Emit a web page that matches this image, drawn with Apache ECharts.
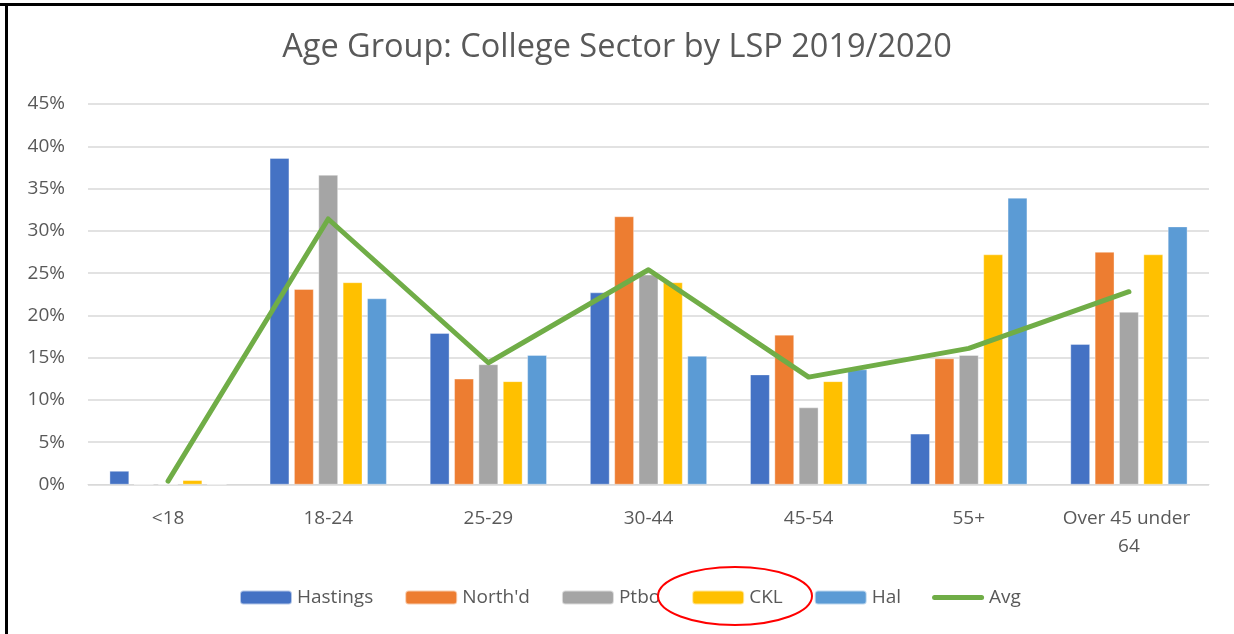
<!DOCTYPE html>
<html>
<head>
<meta charset="utf-8">
<script src="https://cdn.jsdelivr.net/npm/echarts@6/dist/echarts.min.js"></script>
<style>html,body{margin:0;padding:0;background:#fff}#c{width:1234px;height:634px}</style>
</head>
<body>
<div id="c"></div>
<script>
const categories = ['<18', '18-24', '25-29', '30-44', '45-54', '55+', 'Over 45 under 64'];
const hastings = [1.6, 38.6, 17.9, 22.7, 13.0, 6.0, 16.6];
const northd   = [0, 23.1, 12.5, 31.7, 17.7, 14.9, 27.5];
const ptbo     = [0, 36.6, 14.2, 24.8, 9.1, 15.3, 20.4];
const ckl      = [0.5, 23.9, 12.2, 23.9, 12.2, 27.2, 27.2];
const hal      = [0, 22.0, 15.3, 15.2, 13.6, 33.9, 30.5];
const avg      = [0.4, 31.4, 14.4, 25.4, 12.7, 16.1, 22.8];
const seriesNames = ['Hastings', "North'd", 'Ptbo', 'CKL', 'Hal', 'Avg'];
const colors = ['#4472C4', '#ED7D31', '#A5A5A5', '#FFC000', '#5B9BD5', '#70AD47'];
const titleText = 'Age Group: College Sector by LSP 2019/2020';

const FONT = '"Open Sans", "Noto Sans", sans-serif';
const txt = '#595959';
const barData = [hastings, northd, ptbo, ckl, hal];
const series = barData.map((d, i) => ({
  name: seriesNames[i], type: 'bar', data: d,
  barGap: '25%', barCategoryGap: '27%',
  itemStyle: { color: colors[i], borderColor: 'rgba(255,255,255,0.6)', borderWidth: 0.6 }
}));
series.push({
  name: seriesNames[5], type: 'line', data: avg, symbol: 'none', showSymbol: false,
  lineStyle: { color: colors[5], width: 5, cap: 'round', join: 'round' }, itemStyle: { color: colors[5] }, z: 5
});

const legendData = seriesNames.map((n, i) => i === 5
  ? { name: n, icon: 'path://M2.5,0 L49.5,0 A2.5,2.5 0 0 1 49.5,5 L2.5,5 A2.5,2.5 0 0 1 2.5,0 Z' }
  : { name: n });

const chart = echarts.init(document.getElementById('c'), null, { renderer: 'canvas' });
chart.setOption({
  animation: false,
  backgroundColor: '#fff',
  title: {
    text: titleText, left: 'center', top: 26,
    textStyle: { fontFamily: FONT, fontSize: 32.5, fontWeight: 'normal', color: txt }
  },
  grid: { left: 88, right: 25, top: 104, bottom: 149.5, containLabel: false },
  legend: {
    bottom: 22, left: 234, itemWidth: 52, itemHeight: 14, itemGap: 31,
    symbolKeepAspect: true,
    textStyle: { fontFamily: FONT, fontSize: 19, color: txt, padding: [0, 0, 0, 0] },
    data: legendData
  },
  xAxis: {
    type: 'category', data: categories,
    axisLine: { lineStyle: { color: '#d9d9d9', width: 1 } },
    axisTick: { show: false },
    axisLabel: {
      interval: 0, color: txt, fontFamily: FONT, fontSize: 19, margin: 20,
      width: 145, overflow: 'break', lineHeight: 28
    }
  },
  yAxis: {
    type: 'value', min: 0, max: 45, interval: 5,
    axisLine: { show: false }, axisTick: { show: false },
    axisLabel: { color: txt, fontFamily: FONT, fontSize: 19, margin: 23, formatter: v => v + '%' },
    splitLine: { lineStyle: { color: '#d9d9d9', width: 1.5 } }
  },
  graphic: [
    { type: 'rect', shape: { x: 0, y: 3, width: 1234, height: 3 }, style: { fill: '#000' }, silent: true },
    { type: 'rect', shape: { x: 5, y: 3, width: 3, height: 631 }, style: { fill: '#000' }, silent: true },
    { type: 'ellipse', shape: { cx: 735, cy: 596, rx: 77, ry: 29 }, style: { fill: 'none', stroke: '#FF0000', lineWidth: 2 }, z: 100, silent: true }
  ],
  series: series
});
</script>
</body>
</html>
